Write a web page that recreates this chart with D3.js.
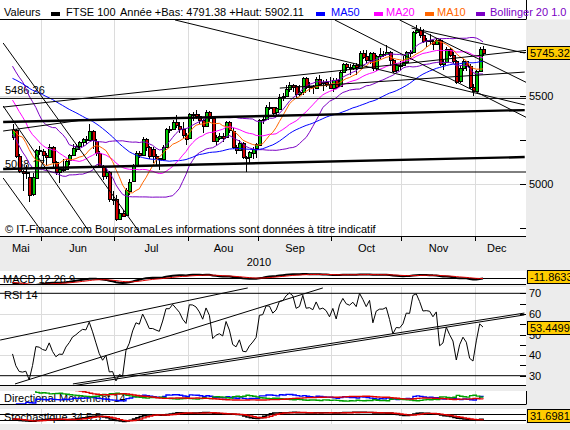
<!DOCTYPE html>
<html><head><meta charset="utf-8">
<script src="https://cdn.jsdelivr.net/npm/d3@7"></script>
<style>
body{margin:0;background:#ececec;overflow:hidden}
text{font-family:"Liberation Sans",Arial,sans-serif;font-size:11px;}
</style></head>
<body><svg id="c" width="570" height="430"></svg>
<script>
// ---------- DATA ----------
const warmCloses = [5599,5610,5605,5643,5635,5602,5567,5588,5643,5642,5650,5604,5643,5642,5627,5703,5710,5681,5680,
 5745,5780,5762,5713,5770,5778,5761,5787,5825,5744,5727,5781,5745,5666,5723,5753,5603,5586,5617,5553,
 5411,5341,5260,5123,5387,5334,5383,5433,5262,5267];
const dates = ["05-18","05-19","05-20","05-21","05-24","05-25","05-26","05-27","05-28",
 "06-01","06-02","06-03","06-04","06-07","06-08","06-09","06-10","06-11","06-14","06-15","06-16","06-17","06-18","06-21","06-22","06-23","06-24","06-25","06-28","06-29","06-30",
 "07-01","07-02","07-05","07-06","07-07","07-08","07-09","07-12","07-13","07-14","07-15","07-16","07-19","07-20","07-21","07-22","07-23","07-26","07-27","07-28","07-29","07-30",
 "08-02","08-03","08-04","08-05","08-06","08-09","08-10","08-11","08-12","08-13","08-16","08-17","08-18","08-19","08-20","08-23","08-24","08-25","08-26","08-27","08-31",
 "09-01","09-02","09-03","09-06","09-07","09-08","09-09","09-10","09-13","09-14","09-15","09-16","09-17","09-20","09-21","09-22","09-23","09-24","09-27","09-28","09-29","09-30",
 "10-01","10-04","10-05","10-06","10-07","10-08","10-11","10-12","10-13","10-14","10-15","10-18","10-19","10-20","10-21","10-22","10-25","10-26","10-27","10-28","10-29",
 "11-01","11-02","11-03","11-04","11-05","11-08","11-09","11-10","11-11","11-12","11-15","11-16","11-17","11-18","11-19","11-22","11-23","11-24","11-25","11-26","11-29","11-30",
 "12-01","12-02","12-03"];
const opens = [5267,5307,5158,5073,5063,5040,4940,5038,5195,
 5188,5163,5152,5211,5126,5069,5087,5085,5133,5163,5202,5217,5237,5253,5250,5299,5246,5178,5100,5046,5071,4915,
 4917,4806,4838,4823,4965,5014,5106,5175,5165,5256,5211,5200,5158,5148,5140,5211,5313,5313,5351,5332,5313,5279,
 5258,5397,5396,5387,5365,5332,5410,5376,5245,5266,5275,5262,5350,5303,5211,5195,5234,5155,5151,5181,5201,
 5225,5366,5371,5440,5439,5407,5429,5495,5501,5541,5565,5555,5508,5520,5602,5551,5555,5547,5598,5571,5578,5569,
 5548,5592,5555,5636,5681,5662,5657,5675,5661,5747,5727,5703,5742,5657,5728,5741,5741,5751,5707,5646,5677,
 5675,5694,5749,5748,5863,5875,5849,5815,5817,5815,5797,5820,5681,5693,5768,5732,5700,5581,5657,5699,5668,5551,
 5528,5642,5767];
const highs = [5340,5315,5170,5080,5110,5069,5060,5200,5215,
 5200,5175,5230,5215,5130,5095,5140,5140,5170,5230,5225,5245,5260,5275,5340,5305,5255,5185,5110,5090,5075,4960,
 4935,4860,4850,4980,5030,5115,5185,5190,5265,5260,5215,5210,5170,5150,5220,5320,5330,5365,5390,5350,5350,5290,
 5405,5410,5420,5395,5370,5420,5415,5380,5280,5290,5290,5360,5360,5320,5220,5250,5238,5160,5190,5210,5235,
 5370,5385,5450,5465,5440,5440,5510,5515,5560,5580,5570,5560,5560,5610,5610,5580,5560,5610,5620,5590,5595,5610,
 5600,5600,5645,5690,5690,5680,5690,5690,5755,5760,5760,5750,5750,5735,5770,5755,5790,5755,5710,5690,5700,
 5730,5755,5760,5870,5902,5890,5880,5830,5850,5820,5830,5825,5710,5780,5775,5750,5705,5670,5710,5700,5680,5570,
 5650,5780,5785];
const lows = [5250,5150,5060,4960,5030,4900,4930,5035,5165,
 5120,5110,5150,5090,5050,5005,5070,5080,5110,5160,5180,5195,5215,5230,5250,5200,5160,5090,5020,5030,4900,4880,
 4791,4795,4810,4820,4940,5010,5100,5150,5160,5190,5140,5120,5110,5080,5135,5210,5290,5305,5320,5290,5260,5220,
 5258,5360,5370,5340,5290,5330,5350,5240,5220,5250,5240,5262,5290,5200,5170,5190,5140,5070,5120,5140,5150,
 5225,5340,5370,5420,5390,5380,5429,5470,5500,5520,5520,5490,5500,5505,5540,5520,5510,5540,5560,5530,5550,5540,
 5520,5540,5550,5630,5640,5620,5650,5620,5660,5710,5690,5680,5640,5640,5710,5720,5735,5670,5630,5630,5650,
 5670,5690,5720,5745,5850,5830,5800,5780,5790,5760,5790,5670,5650,5690,5720,5680,5570,5575,5640,5640,5540,5500,
 5528,5640,5730];
const closes = [5307,5158,5073,5063,5069,4940,5038,5195,5188,
 5163,5152,5211,5126,5069,5087,5085,5133,5163,5202,5217,5237,5253,5250,5299,5246,5178,5100,5046,5071,4915,4917,
 4806,4838,4823,4965,5014,5106,5175,5165,5256,5211,5158,5158,5148,5140,5211,5313,5313,5351,5332,5313,5279,5258,
 5397,5396,5387,5365,5332,5410,5376,5245,5266,5275,5262,5350,5303,5211,5195,5234,5155,5151,5181,5201,5225,
 5366,5371,5440,5439,5407,5429,5495,5501,5541,5565,5555,5508,5520,5602,5551,5555,5547,5598,5571,5578,5569,5548,
 5592,5555,5636,5681,5662,5657,5675,5661,5747,5727,5703,5742,5657,5728,5741,5741,5751,5707,5646,5677,5675,
 5694,5749,5748,5863,5875,5849,5815,5817,5815,5797,5820,5681,5693,5768,5732,5700,5581,5657,5699,5668,5551,5528,
 5642,5767,5745.32];
const monthNames = ["Mai","Jun","Jul","Aou","Sep","Oct","Nov","Dec"];
const yearLabel = "2010";
const priceTicks = [4750,5000,5250,5500,5750];
const priceLabels = [5000,5500];
const rsiTicks = [30,35,40,45,50,55,60,65,70];
const rsiLabels = [30,40,50,60,70];
const levelLabels = [[5486.26,"5486.26"],[5068.17,"5068.17"]];
const lastPrice = "5745.32", lastMacd = "-11.8633", lastRsi = "53.4499", lastSto = "31.6981";
const lastRsiVal = 53.4499;
// trend lines in data space: [index0, value0, index1, value1]
const mainThin = [
 [-4,5486.26,154,5486.26],[-4,5068.17,154,5068.17],
 [-2.8,5437,154.9,5761],[48.7,5932,153.5,5449],[96.6,5932,154.3,5375],
 [116,5932,154.3,5574],[119.6,5886,153.5,5744],[80.1,5545,153.5,5636],
 [-2.8,5801,38.2,4722],[-2.8,5443,23.2,4722],[-2.8,5034,9.1,4722],[-2.8,5301,21.1,5364]];
const mainThick = [[-2.8,5085,153.5,5153],[-2.8,5352,153.5,5420]];
const rsiLines = [[-4,70,154,70],[-4,30,154,30],[-3.7,47.3,70.5,72.6],[0.75,26,93,72.6],
 [18.1,26,153.4,60.4],[18.1,25.1,153.4,59.5]];
const stoLevels = [80,20];

// ---------- INDICATORS ----------
const N = closes.length, WU = warmCloses.length;
const allC = warmCloses.concat(closes);
const allH = warmCloses.concat(highs), allL = warmCloses.concat(lows);
function sma(arr,n,g){let s=0;for(let k=g-n+1;k<=g;k++)s+=arr[k];return s/n;}
const ma10 = d3.range(N).map(i=>sma(allC,10,WU+i));
const ma20 = d3.range(N).map(i=>sma(allC,20,WU+i));
const ma50 = d3.range(N).map(i=>sma(allC,50,WU+i));
const bsd = d3.range(N).map(i=>{const g=WU+i,m=ma20[i];let v=0;for(let k=g-19;k<=g;k++)v+=(allC[k]-m)**2;return Math.sqrt(v/20);});
const bbUp = ma20.map((m,i)=>m+bsd[i]), bbLo = ma20.map((m,i)=>m-bsd[i]);
function ema(arr,n){const a=2/(n+1);const o=[arr[0]];for(let k=1;k<arr.length;k++)o[k]=o[k-1]+a*(arr[k]-o[k-1]);return o;}
function wilder(arr,n){const o=[];let s=0;for(let k=0;k<arr.length;k++){if(k<n){s+=arr[k];o[k]=s/(k+1);}else o[k]=o[k-1]+(arr[k]-o[k-1])/n;}return o;}
const e12=ema(allC,12), e26=ema(allC,26);
const macdAll=allC.map((_,k)=>e12[k]-e26[k]); const sigAll=ema(macdAll,9);
const macd=d3.range(N).map(i=>macdAll[WU+i]), sig=d3.range(N).map(i=>sigAll[WU+i]);
const gains=[],losses=[];
for(let k=1;k<allC.length;k++){const d=allC[k]-allC[k-1];gains.push(Math.max(d,0));losses.push(Math.max(-d,0));}
const ag=wilder(gains,14), al=wilder(losses,14);
const rsi=d3.range(N).map(i=>{const k=WU+i-1;return 100-100/(1+ag[k]/al[k]);});
const pdm=[],mdm=[],tr=[];
for(let i=1;i<N;i++){const up=highs[i]-highs[i-1],dn=lows[i-1]-lows[i];
 pdm.push(up>dn&&up>0?up:0); mdm.push(dn>up&&dn>0?dn:0);
 tr.push(Math.max(highs[i]-lows[i],Math.abs(highs[i]-closes[i-1]),Math.abs(lows[i]-closes[i-1])));}
const sp=wilder(pdm,14), sm=wilder(mdm,14), st=wilder(tr,14);
const pdi=sp.map((v,k)=>100*v/st[k]), mdi=sm.map((v,k)=>100*v/st[k]);
const dx=pdi.map((v,k)=>100*Math.abs(v-mdi[k])/Math.max(v+mdi[k],1e-9));
const adx=wilder(dx,14);
const rawK=allC.map((c,g)=>{if(g<33)return 50;const hh=d3.max(allH.slice(g-33,g+1)),ll=d3.min(allL.slice(g-33,g+1));return 100*(c-ll)/(hh-ll);});
const kAll=rawK.map((_,g)=>g<4?rawK[g]:sma(rawK,5,g));
const dAll=kAll.map((_,g)=>g<4?kAll[g]:sma(kAll,5,g));
const stoK=d3.range(N).map(i=>kAll[WU+i]), stoD=d3.range(N).map(i=>dAll[WU+i]);

// ---------- SCALES ----------
const x = d3.scaleLinear().domain([0,N-1]).range([12.5,483]);
const yMain = d3.scaleLinear().domain([5000,5500]).range([184,96]);
const yRsi = d3.scaleLinear().domain([30,70]).range([375.7,293.3]);
const yMacd = d3.scaleLinear().domain([-120,120]).range([284,272]);
const yDm = d3.scaleLinear().domain([0,50]).range([404,391]);
const ySto = d3.scaleLinear().domain([0,100]).range([422,412]);
const PW = 526;
const panels = {main:[20,236.5],macd:[271,285],rsi:[287,385.5],dm:[391,404.5],sto:[409,424]};

const svg = d3.select("#c");
svg.append("rect").attr("width",570).attr("height",430).attr("fill","#ececec");
const defs = svg.append("defs");
Object.entries(panels).forEach(([k,[t,b]])=>{
 defs.append("clipPath").attr("id","cl-"+k).append("rect").attr("x",0).attr("y",t).attr("width",PW).attr("height",b-t);
 svg.append("rect").attr("x",0).attr("y",t).attr("width",PW).attr("height",b-t).attr("fill","#fff");
});
// legend strip
svg.append("rect").attr("x",0).attr("y",0).attr("width",570).attr("height",19.5).attr("fill","#fff");
svg.append("line").attr("x1",0).attr("x2",PW).attr("y1",19.5).attr("y2",19.5).attr("stroke","#000");
svg.append("line").attr("x1",PW+0.5).attr("x2",PW+0.5).attr("y1",0).attr("y2",19.5).attr("stroke","#000");
const legend=[{t:"Valeurs",x:4},{m:"#000",x:51},{t:"FTSE 100",x:66},{t:"Année +Bas: 4791.38 +Haut: 5902.11",x:120},
 {m:"#0000ff",x:316},{t:"MA50",x:331,c:"#0000ff"},{m:"#ff00ff",x:374},{t:"MA20",x:386,c:"#ff00ff"},
 {m:"#ff6600",x:425},{t:"MA10",x:437,c:"#ff6600"},{m:"#7b00c4",x:476},{t:"Bollinger 20 1.0",x:490,c:"#7b00c4"}];
legend.forEach(d=>{ if(d.m) svg.append("rect").attr("x",d.x).attr("y",12).attr("width",9).attr("height",4).attr("fill",d.m);
 else svg.append("text").attr("x",d.x).attr("y",16).attr("fill",d.c||"#000").text(d.t);});

// month boundaries
const starts = d3.range(1,N).filter(i=>dates[i].slice(0,2)!==dates[i-1].slice(0,2));
const bx = starts.map(i=>Math.round(x(i)-1.7)+0.5);
// vertical grid
["main","rsi","dm","sto"].forEach(k=>{const [t,b]=panels[k];
 svg.append("g").selectAll("line").data(bx).join("line").attr("x1",d=>d).attr("x2",d=>d).attr("y1",t).attr("y2",b).attr("stroke","#dcdcdc");});
// horizontal grid
svg.append("g").selectAll("line").data(priceLabels).join("line").attr("x1",0).attr("x2",PW).attr("y1",d=>Math.round(yMain(d))+0.5).attr("y2",d=>Math.round(yMain(d))+0.5).attr("stroke","#dcdcdc");
svg.append("g").selectAll("line").data([40,50,60]).join("line").attr("x1",0).attr("x2",PW).attr("y1",d=>Math.round(yRsi(d))+0.5).attr("y2",d=>Math.round(yRsi(d))+0.5).attr("stroke","#dcdcdc");

// level labels
levelLabels.forEach(([v,t])=>svg.append("text").attr("x",5).attr("y",yMain(v)-4).text(t));

// candles
const cg = svg.append("g").attr("clip-path","url(#cl-main)").attr("shape-rendering","crispEdges");
const idx = d3.range(N);
cg.selectAll("line").data(idx).join("line").attr("x1",i=>Math.round(x(i))+0.5).attr("x2",i=>Math.round(x(i))+0.5)
 .attr("y1",i=>yMain(highs[i])).attr("y2",i=>yMain(lows[i])).attr("stroke","#000");
cg.selectAll("rect").data(idx).join("rect").attr("x",i=>Math.round(x(i))-0.5).attr("width",3)
 .attr("y",i=>Math.round(yMain(Math.max(opens[i],closes[i])))+0.5)
 .attr("height",i=>Math.max(1,Math.round(Math.abs(yMain(opens[i])-yMain(closes[i])))))
 .attr("fill",i=>closes[i]>=opens[i]?"#00c800":"#d20000").attr("stroke","#000");

// MA lines
const mg = svg.append("g").attr("clip-path","url(#cl-main)").attr("fill","none");
const lineMain = arr=>d3.line().x(i=>x(i)).y(i=>yMain(arr[i]))(idx);
[[bbUp,"#7b00c4"],[bbLo,"#7b00c4"],[ma50,"#0000ff"],[ma20,"#ff00ff"],[ma10,"#ff6600"]].forEach(([a,c])=>
 mg.append("path").attr("d",lineMain(a)).attr("stroke",c).attr("stroke-width",1));

// trend lines
const seg = (ys)=>d=>d3.line().x(p=>x(p[0])).y(p=>ys(p[1]))([[d[0],d[1]],[d[2],d[3]]]);
const tg = svg.append("g").attr("clip-path","url(#cl-main)").attr("fill","none").attr("stroke","#000");
tg.selectAll("path.t").data(mainThin).join("path").attr("d",seg(yMain)).attr("stroke-width",1);
tg.selectAll("path.k").data(mainThick).join("path").attr("class","k").attr("d",seg(yMain)).attr("stroke-width",2.4);

svg.append("text").attr("x",5).attr("y",233).text("© IT-Finance.com   BoursoramaLes informations sont données à titre indicatif");
svg.append("line").attr("x1",0).attr("x2",PW).attr("y1",236.5).attr("y2",236.5).attr("stroke","#000");

// price axis
svg.append("g").selectAll("line").data(priceTicks).join("line").attr("x1",520).attr("x2",PW).attr("y1",d=>Math.round(yMain(d))+0.5).attr("y2",d=>Math.round(yMain(d))+0.5).attr("stroke","#000");
svg.append("g").selectAll("text").data(priceLabels).join("text").attr("x",529).attr("y",d=>yMain(d)+4).text(d=>d);

// time axis
svg.append("g").selectAll("line").data(bx).join("line").attr("x1",d=>d).attr("x2",d=>d).attr("y1",236.5).attr("y2",241).attr("stroke","#000");
const bounds=[0].concat(bx).concat([518]);
svg.append("g").selectAll("text").data(monthNames).join("text").attr("text-anchor","middle")
 .attr("x",(d,k)=>(bounds[k]+bounds[k+1])/2).attr("y",252).text(d=>d);
svg.append("text").attr("x",259).attr("y",266).attr("text-anchor","middle").text(yearLabel);

// MACD panel
svg.append("text").attr("x",3).attr("y",283).text("MACD 12 26 9");
const macg = svg.append("g").attr("clip-path","url(#cl-macd)").attr("fill","none");
macg.append("line").attr("x1",0).attr("x2",PW).attr("y1",278.5).attr("y2",278.5).attr("stroke","#000");
macg.append("path").attr("d",d3.line().x(i=>x(i)).y(i=>yMacd(macd[i]))(idx)).attr("stroke","#000").attr("stroke-width",2);
macg.append("path").attr("d",d3.line().x(i=>x(i)).y(i=>yMacd(sig[i]))(idx)).attr("stroke","#e00000").attr("stroke-width",1);
svg.append("line").attr("x1",0).attr("x2",PW).attr("y1",284.5).attr("y2",284.5).attr("stroke","#000");

// RSI panel
svg.append("text").attr("x",4).attr("y",299).text("RSI 14");
const rg = svg.append("g").attr("clip-path","url(#cl-rsi)").attr("fill","none").attr("stroke","#000");
rg.selectAll("path.r").data(rsiLines).join("path").attr("d",seg(yRsi));
rg.append("path").attr("d",d3.line().x(i=>x(i)).y(i=>yRsi(rsi[i]))(idx)).attr("stroke-width",1);
svg.append("line").attr("x1",0).attr("x2",PW).attr("y1",385.5).attr("y2",385.5).attr("stroke","#000");
svg.append("g").selectAll("line").data(rsiTicks).join("line").attr("x1",520).attr("x2",PW).attr("y1",d=>Math.round(yRsi(d))+0.5).attr("y2",d=>Math.round(yRsi(d))+0.5).attr("stroke","#000");
svg.append("g").selectAll("text").data(rsiLabels).join("text").attr("x",529).attr("y",d=>yRsi(d)+4).text(d=>d);

// DM panel
svg.append("text").attr("x",4).attr("y",402).text("Directional Movement 14");
const dg = svg.append("g").attr("clip-path","url(#cl-dm)").attr("fill","none");
const di = d3.range(1,N);
[[pdi,"#0000ff"],[mdi,"#00a000"],[adx,"#e00000"]].forEach(([a,c])=>
 dg.append("path").attr("d",d3.line().x(i=>x(i)).y(i=>yDm(a[i-1])).curve(d3.curveStepAfter)(di)).attr("stroke",c).attr("stroke-width",1.4));
svg.append("line").attr("x1",0).attr("x2",PW).attr("y1",404.5).attr("y2",404.5).attr("stroke","#000");
svg.append("line").attr("x1",PW+0.5).attr("x2",PW+0.5).attr("y1",391).attr("y2",404.5).attr("stroke","#000");

// Stochastic panel
svg.append("text").attr("x",4).attr("y",421).text("Stochastique 34 5 5");
const sg = svg.append("g").attr("clip-path","url(#cl-sto)").attr("fill","none");
sg.selectAll("line").data(stoLevels).join("line").attr("x1",0).attr("x2",PW).attr("y1",d=>Math.round(ySto(d))+0.5).attr("y2",d=>Math.round(ySto(d))+0.5).attr("stroke","#000");
sg.append("path").attr("d",d3.line().x(i=>x(i)).y(i=>ySto(stoK[i])).curve(d3.curveStepAfter)(idx)).attr("stroke","#000").attr("stroke-width",1.6);
sg.append("path").attr("d",d3.line().x(i=>x(i)).y(i=>ySto(stoD[i])).curve(d3.curveStepAfter)(idx)).attr("stroke","#e00000").attr("stroke-width",1.4);

// value boxes
function box(yc,t){const g=svg.append("g");
 g.append("rect").attr("x",527.5).attr("y",Math.round(yc-6.5)+0.5).attr("width",50).attr("height",13).attr("fill","#ffcc00").attr("stroke","#000");
 g.append("text").attr("x",530).attr("y",Math.round(yc-6.5)+11).text(t);}
box(yMain(+lastPrice),lastPrice);
box(276,lastMacd);
box(yRsi(lastRsiVal),lastRsi);
box(415,lastSto);
</script></body></html>
